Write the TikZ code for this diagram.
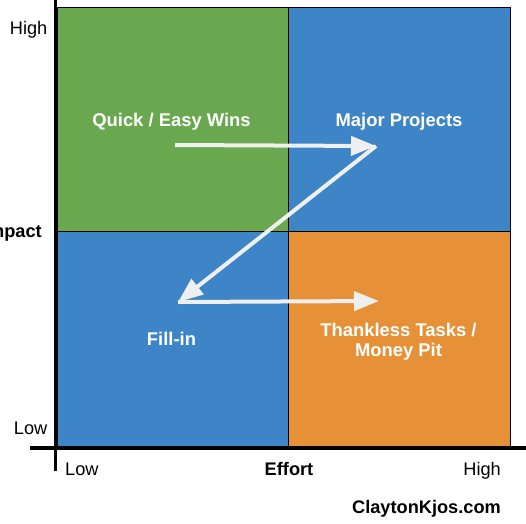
\documentclass[tikz,border=0pt]{standalone}
\usepackage{fontspec}
\setmainfont{Liberation Sans}
\usepackage{xcolor}
\usepackage{tikz}
\usetikzlibrary{arrows.meta}
\definecolor{quickgreen}{HTML}{6AA84F}
\definecolor{projblue}{HTML}{3D85C6}
\definecolor{pitorange}{HTML}{E69138}
\definecolor{flowgray}{HTML}{EFEFEF}
\tikzstyle{quad}      = [draw=black, line width=1pt]
\tikzstyle{axis}      = [line width=3.5pt]
\tikzstyle{quadlabel} = [text=white, font=\bfseries\fontsize{18.4}{20}\selectfont]
\tikzstyle{axislabel} = [font=\fontsize{18.2}{20}\selectfont]
\tikzstyle{flow}      = [line width=4pt, draw=flowgray, -{Triangle[length=25pt,width=19pt]}]
\tikzset{every node/.style={align=center, inner sep=0pt}}

\begin{document}
\begin{tikzpicture}[x=1pt, y=-1pt]
  \useasboundingbox (0,0) rectangle (526,523);

  % Quadrants
  \filldraw[quad, fill=quickgreen] (57,7) rectangle (288,231);
  \filldraw[quad, fill=projblue]   (288,7) rectangle (510,231);
  \filldraw[quad, fill=projblue]   (57,231) rectangle (288,446);
  \filldraw[quad, fill=pitorange]  (288,231) rectangle (510,446);

  % Axes
  \draw[axis] (55.3,0) -- (55.3,471);
  \draw[axis] (30,447.8) -- (526,447.8);

  % Impact labels
  \node[axislabel, anchor=base east] (imphigh) at (47.5,34) {High};
  \node[axislabel, anchor=base east] (implow) at (47.5,434) {Low};
  \node[axislabel, anchor=base east, font=\bfseries\fontsize{18.2}{20}\selectfont] (impact) at (42,237) {Impact};

  % Effort labels
  \node[axislabel, anchor=base west] (efflow) at (65,475.5) {Low};
  \node[axislabel, anchor=base, font=\bfseries\fontsize{18.2}{20}\selectfont] (effort) at (289,475.5) {Effort};
  \node[axislabel, anchor=base east] (effhigh) at (501,475.5) {High};
  \node[axislabel, anchor=base east, font=\bfseries\fontsize{18.2}{20}\selectfont] (site) at (501,513) {ClaytonKjos.com};

  % Quadrant names
  \node[quadlabel, anchor=base] (quick) at (171.5,126.7) {Quick / Easy Wins};
  \node[quadlabel, anchor=base] (major) at (399,126.7) {Major Projects};
  \node[quadlabel, anchor=base] (fillin) at (171.5,345) {Fill-in};
  \node[quadlabel, anchor=base] (thankless) at (398.5,356) {Thankless Tasks /\\Money Pit};

  % Flow (Z path)
  \coordinate (qw) at (175,145);
  \coordinate (mp) at (376,146);
  \coordinate (fi) at (178,302);
  \coordinate (tt) at (379,301);
  \draw[flow] (qw) -- (mp);
  \draw[flow] (mp) -- (fi);
  \draw[flow] (fi) -- (tt);
\end{tikzpicture}
\end{document}
